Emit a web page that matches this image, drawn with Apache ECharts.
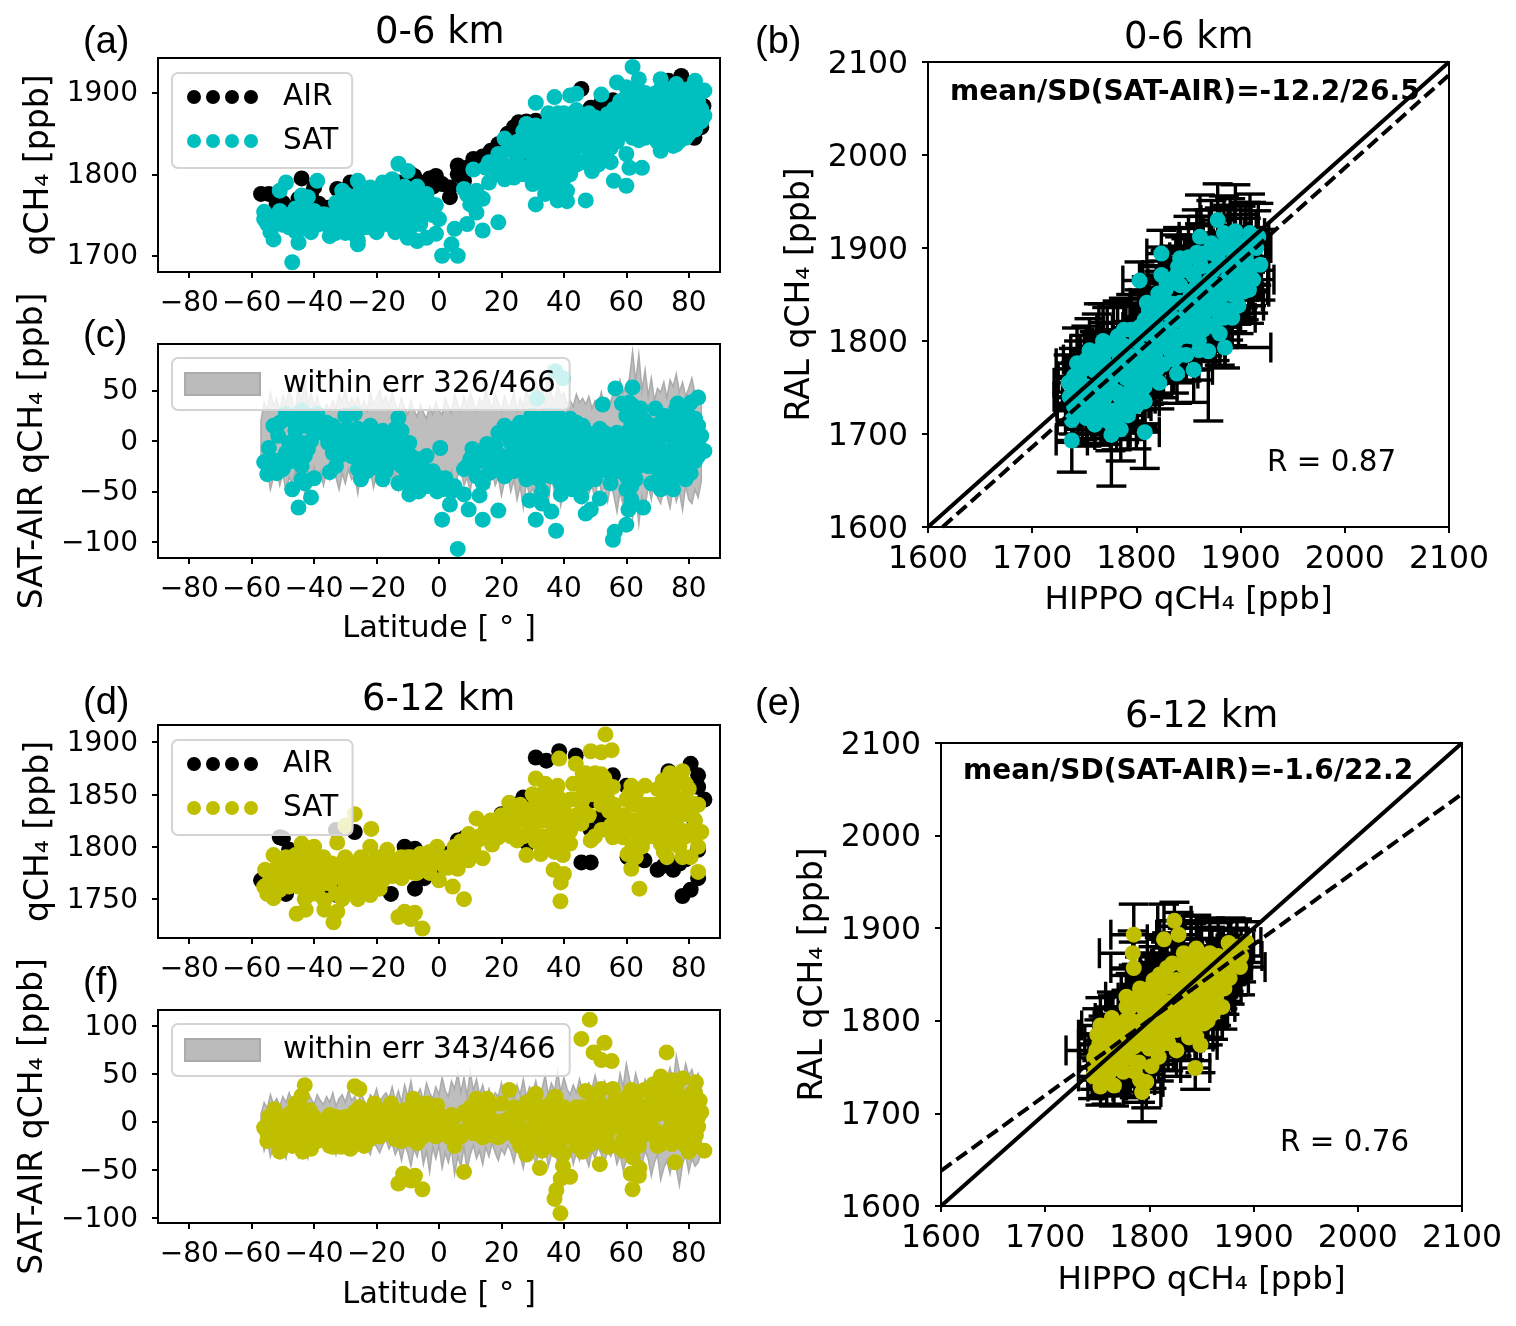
<!DOCTYPE html>
<html><head><meta charset="utf-8">
<style>html,body{margin:0;padding:0;background:#fff}#c{width:1516px;height:1326px}</style>
<script src="https://cdn.jsdelivr.net/npm/echarts@6/dist/echarts.min.js"></script>
</head><body><div id="c"></div>
<script>
const latTicks=[-80,-60,-40,-20,0,20,40,60,80];
const ticksA=[1700,1800,1900], ticksC=[-100,-50,0,50], ticksD=[1750,1800,1850,1900], ticksF=[-100,-50,0,50,100];
const ticksScat=[1600,1700,1800,1900,2000,2100];
const labels={a:'(a)',b:'(b)',c:'(c)',d:'(d)',e:'(e)',f:'(f)'};

// panel (a) latitude, qCH4
const airA=[[-57,1776],[-54.5,1776],[-52,1764],[-48.6,1759],[-44,1795],[-40,1784],[-38.5,1764],[-35.5,1759],[-32,1739],[-47,1735],[-32.6,1782],[-28.4,1790],[-30,1751],[-9.5,1802],[-7,1792],[-1,1798],[-5,1788],[-11,1788],[3.5,1772],[1,1788],[6,1811],[11,1819],[16.6,1829],[8,1792],[3.5,1784],[19,1837],[25.5,1864],[31,1866],[40,1800],[28.4,1813],[45.6,1905],[48.6,1882],[55.7,1891],[51.5,1874],[47.4,1837],[65.8,1866],[77.6,1921],[84.7,1884],[84,1858],[81.8,1845],[59,1886],[73.5,1915],[81.8,1911],[67.5,1878],[-3,1795],[-8,1798],[-13,1790],[-2,1785],[6,1800],[9,1808],[14,1822],[22,1850],[24,1858],[28,1865],[35,1870],[52,1888],[50,1880],[-50,1765],[-45,1770],[-41,1775]];
const satA=[[-56,1754],[-55,1739],[-53,1720],[-54,1729],[-52,1748],[-49,1750],[-51,1780],[-49,1790],[-45,1716],[-47,1692],[-44,1733],[-41,1729],[-44,1743],[-39,1792],[-44,1774],[-42,1772],[-38,1747],[-35,1724],[-34,1747],[-37,1751],[-32,1755],[-30,1776],[-26,1792],[-31,1780],[-28,1770],[-22,1784],[-18,1790],[-15,1794],[-13,1813],[-10,1804],[-26,1714],[-26,1719],[-27,1739],[-24,1735],[-20,1729],[-17,1739],[-14,1729],[-10,1722],[-7,1718],[-4,1722],[-1,1727],[-6,1739],[-10,1747],[-14,1755],[-19,1759],[-22,1751],[-26,1759],[-21,1772],[-17,1768],[-12,1776],[-8,1772],[-4,1776],[-1,1762],[0,1745],[5,1733],[9,1739],[4,1714],[1,1700],[6,1700],[14,1731],[19,1741],[12,1753],[10,1763],[12,1780],[8,1782],[11,1806],[15,1808],[19,1825],[21,1844],[21,1794],[24,1796],[27,1853],[28,1829],[31,1808],[30,1788],[34,1776],[31,1763],[38,1768],[41,1767],[39,1784],[47,1768],[33,1829],[36,1845],[38,1861],[42,1874],[31,1888],[37,1895],[42,1897],[44,1899],[44,1879],[37,1808],[40,1820],[44,1812],[49,1804],[51,1812],[48,1829],[55,1833],[49,1857],[52,1898],[56,1870],[60,1825],[61,1808],[65,1808],[56,1792],[60,1786],[62,1845],[64,1853],[57,1913],[60,1907],[64,1917],[62,1932],[62,1882],[54,1874],[67,1882],[71,1829],[76,1837],[71,1917],[76,1911],[82,1915],[85,1903],[79,1891],[73,1870],[79,1858],[85,1872],[71,1845],[77,1841],[69,1899],[78,1874],[82,1895],[65,1870],[58,1849],[73,1899],[67,1858],[32,1840],[35,1820],[38,1835],[40,1850],[43,1840],[35,1860],[30,1845],[41,1865],[45,1850],[33,1800],[36,1790],[70,1860],[74,1850],[78,1860],[82,1855],[80,1880],[75,1885],[72,1875],[84,1880],[70,1890],[76,1900],[80,1905],[50,1850],[54,1855],[58,1865],[62,1870],[66,1860],[60,1880],[63,1895],[66,1900],[-24,1760],[-20,1750],[-28,1750],[-16,1750],[-23,1775],[-53,1745],[-50,1738],[-47,1745],[-46,1730],[-43,1752],[-41,1745],[-39,1738],[-36,1738],[-33,1765],[-30,1765],[-29,1742],[-33,1740],[-24,1748],[-27,1750],[-22,1765],[-20,1740],[-18,1748],[-16,1762],[-14,1745],[-12,1738],[-11,1762],[-8,1755],[-5,1750],[-24,1772],[-19,1780],[-15,1778],[-11,1785],[-7,1785],[-30,1728],[-28,1728],[-22,1735],[-33,1728],[-44,1760],[-48,1735],[-53,1738],[12,1768],[9,1775],[14,1770],[16,1790],[19,1800],[23,1810],[25,1820],[22,1830],[25,1840],[28,1845],[27,1800],[30,1815],[32,1820],[34,1812],[36,1800],[38,1815],[41,1810],[43,1825],[33,1790],[37,1780],[40,1795],[41,1780],[46,1815],[43,1860],[40,1875],[38,1875],[34,1860],[31,1860],[28,1862],[35,1875],[47,1845],[50,1835],[52,1825],[47,1862],[53,1842],[50,1870],[53,1868],[56,1855],[56,1880],[59,1875],[60,1858],[64,1842],[62,1858],[65,1885],[67,1893],[69,1870],[72,1860],[75,1870],[78,1885],[81,1870],[83,1865],[72,1890],[78,1900],[74,1842],[77,1855],[70,1840],[68,1850],[66,1845],[60,1895],[58,1890],[63,1905],[83,1890],[80,1860],[82,1875],[79,1845],[75,1835],[-56,1745],[-51,1755],[-48,1748],[-46,1758],[-42,1738],[-40,1755],[-36,1750],[-35,1735],[-31,1770],[-29,1760],[-26,1775],[-25,1785],[-23,1745],[-21,1760],[-19,1770],[-17,1780],[-15,1765],[-13,1765],[-12,1750],[-9,1735],[-6,1765],[-3,1765],[-2,1750],[16,1815],[18,1810],[20,1815],[24,1830],[26,1810],[29,1835],[29,1800],[31,1830],[32,1800],[33,1850],[34,1840],[35,1800],[35,1785],[37,1830],[38,1795],[39,1850],[39,1825],[41,1835],[41,1855],[42,1800],[43,1810],[44,1870],[45,1835],[46,1860],[48,1815],[48,1875],[49,1840],[51,1845],[52,1860],[53,1830],[54,1865],[55,1815],[57,1840],[57,1860],[59,1850],[61,1865],[63,1880],[65,1855],[66,1875],[68,1865],[68,1885],[70,1875],[71,1905],[72,1850],[73,1885],[74,1865],[74,1905],[76,1850],[76,1875],[77,1890],[79,1870],[80,1850],[80,1892],[81,1885],[83,1905],[84,1865]];

// panel (c) latitude, SAT-AIR
const diffC=[[-56,-21],[-55,-33],[-52,-32],[-47,-48],[-45,-66],[-41,-56],[-40,-37],[-43,-42],[-44,-25],[-49,-12],[-54.5,-7],[-51.5,5],[-53,15],[-49,27],[-44,30],[-39,27],[-44,-2],[-43,15],[-40,8],[-35,-31],[-33,-25],[-35.5,-2],[-33,8],[-30,25],[-27,27],[-28.4,5],[-25,-38],[-22.5,-22],[-25,-8],[-21,5],[-18,-38],[-15.4,-22],[-13,-42],[-16.6,-8],[-14,12],[-13,23],[-9.5,-2],[-7,-18],[-4,-15],[-9.5,-53],[-6.5,-50],[-1,-35],[2,-37],[-0.6,-50],[0.4,-7],[4,-50],[8,-53],[3.5,-63],[9.5,-68],[1,-78],[6,-107],[14,-78],[19,-69],[13,-54],[14,-42],[10.7,-8],[15.4,-3],[8,-28],[12,-35],[21,15],[19,8],[21,-35],[24,-30],[28,-38],[29,-59],[31,-78],[33,-50],[33,-62],[36,-70],[37.5,-89],[39,-53],[42.6,-48],[47,-72],[48.6,-68],[45.6,-55],[51.5,-57],[55,-42],[50,-38],[45,-22],[41.5,-28],[37.3,69],[39.7,62],[31.4,42],[29.6,25],[33.8,22],[27,15],[32,2],[38,12],[44,18],[35.5,-12],[29.6,-18],[27,-8],[40,-8],[47.4,8],[51.5,12],[52.4,36],[56.5,52],[62,53],[58.6,37],[64.6,32],[61,38],[55.7,-98],[56.3,-90],[60,-83],[60.7,-68],[61.6,-58],[65.4,-66],[61.6,-45],[61,-28],[58,5],[61.6,18],[67.5,-12],[71,-48],[69.3,32],[76.4,37],[83,43],[80.6,38],[75,-48],[80.6,-32],[85,-10],[83,15],[73.5,22],[78,5],[71,5],[76,-12],[81.8,-2],[73.5,-28],[68,-42],[65,5],[57,-12],[50,-8],[-18,10],[-10,-20],[-28,-15],[-22,-12],[-30,-8],[-18,-15],[-12,-25],[-8,-35],[-2,-42],[24,0],[28,5],[26,-12],[32,-25],[36,-35],[35,5],[37,-10],[42,-18],[43,5],[40,15],[36,25],[33,-35],[38,-30],[46,-5],[48,-18],[53,-5],[44,-38],[60,-10],[62,-25],[63,5],[60,25],[64,-2],[70,-28],[72,-12],[74,5],[76,20],[78,-25],[80,10],[82,22],[68,15],[70,-2],[78,30],[76,-35],[72,-40],[-51,18],[-47,20],[-42,25],[-36,18],[-37,8],[-34,15],[-31,10],[-33,-5],[-30,-12],[-28,-2],[-26,12],[-24,5],[-22,15],[-20,-5],[-23,-30],[-26,-28],[-20,-25],[-17,-30],[-16,5],[-12,10],[-11,-10],[-14,-8],[-16,-20],[-8,-25],[-11,-40],[-6,-35],[-3,-38],[0,-45],[-47,-20],[-45,-10],[-43,-15],[-41,0],[-52,-20],[-50,-28],[-44,-38],[16,-22],[18,-18],[13,-20],[10,-18],[17,-30],[20,-15],[23,-15],[25,-8],[22,5],[26,18],[30,8],[31,-12],[34,-5],[28,-25],[30,-35],[32,10],[36,-20],[38,-20],[40,-35],[42,-2],[44,-10],[41,-15],[39,0],[42,22],[46,15],[34,25],[38,25],[48,-30],[50,-22],[52,-28],[54,-15],[56,-2],[57,8],[55,5],[53,-25],[45,-45],[47,-42],[43,-30],[60,-35],[62,-12],[64,-25],[62,12],[60,8],[58,-20],[60,-48],[64,15],[66,-5],[62,35],[68,-25],[70,15],[72,25],[74,-15],[76,5],[78,-10],[80,-15],[82,-20],[82,5],[84,5],[74,-35],[70,-40],[72,-25],[66,20],[76,32],[80,25],[-54,-18],[-50,-18],[-48,-2],[-46,10],[-45,22],[-42,-8],[-41,15],[-38,15],[-36,5],[-34,-12],[-32,-15],[-31,-2],[-29,12],[-27,-8],[-26,-18],[-24,-18],[-23,-5],[-21,-15],[-19,-5],[-19,-28],[-17,3],[-15,-8],[-13,-12],[-12,-2],[-11,-28],[-10,-35],[-9,-15],[-7,-42],[-5,-28],[-4,-45],[-2,-30],[1,-48],[5,-45],[9,-25],[11,-22],[12,-15],[14,-12],[16,-32],[18,-5],[20,-30],[22,-22],[23,-2],[24,12],[25,-22],[26,5],[27,-28],[28,-12],[29,12],[30,-5],[31,18],[32,-38],[33,8],[34,-20],[35,-28],[35,15],[36,-5],[37,18],[37,-22],[38,0],[39,-12],[39,-42],[40,5],[41,-25],[42,10],[43,-12],[44,-22],[45,8],[46,-15],[47,-25],[48,0],[49,-10],[50,5],[51,-15],[52,-5],[53,8],[54,-30],[55,-10],[56,-25],[57,-30],[58,-8],[59,5],[60,-20],[61,-5],[61,-35],[62,22],[63,-15],[63,-38],[64,8],[65,-12],[66,12],[67,-25],[68,0],[69,-12],[70,-20],[71,-8],[71,18],[72,-30],[73,10],[74,-22],[75,12],[75,-8],[77,-20],[77,15],[78,18],[79,-5],[79,-38],[81,-10],[81,18],[83,0],[83,-15]];

const bandLat=[-57,-56,-55,-54,-53,-52,-51,-50,-49,-48,-47,-46,-45,-44,-43,-42,-41,-40,-39,-38,-37,-36,-35,-34,-33,-32,-31,-30,-29,-28,-27,-26,-25,-24,-23,-22,-21,-20,-19,-18,-17,-16,-15,-14,-13,-12,-11,-10,-9,-8,-7,-6,-5,-4,-3,-2,-1,0,1,2,3,4,5,6,7,8,9,10,11,12,13,14,15,16,17,18,19,20,21,22,23,24,25,26,27,28,29,30,31,32,33,34,35,36,37,38,39,40,41,42,43,44,45,46,47,48,49,50,51,52,53,54,55,56,57,58,59,60,61,62,63,64,65,66,67,68,69,70,71,72,73,74,75,76,77,78,79,80,81,82,83,84];
const hiC=[20,38,30,48,35,42,30,45,36,50,40,30,55,38,62,36,48,34,44,30,28,36,30,40,32,46,38,50,34,42,36,44,32,40,30,48,36,42,50,38,44,34,48,36,30,42,32,26,40,30,24,36,28,22,34,26,38,30,26,42,34,28,46,36,30,44,34,48,38,30,42,36,50,40,32,46,38,30,44,34,36,48,30,42,34,52,38,46,60,44,50,40,72,46,38,56,44,48,36,40,34,46,38,42,36,44,32,40,36,48,34,42,38,50,44,60,48,55,62,88,58,85,50,70,44,62,40,52,48,58,42,60,54,66,48,58,44,52,62,46,50,36];
const loC=[-22,-38,-30,-48,-36,-28,-44,-32,-50,-36,-42,-28,-46,-34,-52,-30,-40,-26,-38,-30,-44,-30,-38,-26,-36,-48,-32,-42,-28,-38,-34,-52,-30,-42,-36,-28,-46,-34,-40,-30,-44,-26,-38,-32,-48,-30,-36,-28,-42,-34,-26,-38,-30,-24,-34,-28,-40,-32,-36,-30,-38,-30,-46,-34,-28,-44,-36,-50,-30,-42,-34,-52,-38,-46,-30,-44,-36,-54,-40,-32,-50,-38,-58,-44,-66,-40,-54,-46,-62,-38,-56,-44,-60,-36,-50,-42,-64,-48,-34,-52,-40,-56,-46,-60,-38,-52,-44,-58,-36,-50,-46,-60,-42,-54,-70,-50,-64,-44,-58,-76,-48,-82,-54,-66,-44,-58,-40,-56,-62,-48,-54,-66,-46,-60,-50,-68,-44,-58,-62,-48,-56,-40];
const hiF=[8,20,14,28,18,24,16,26,20,30,22,16,26,36,20,30,24,18,28,22,18,26,20,30,16,24,28,20,32,22,26,18,30,22,16,28,24,34,20,26,30,24,36,22,32,20,38,26,42,24,28,34,22,40,30,24,36,28,46,32,26,42,34,50,30,46,26,52,32,44,28,38,24,34,22,30,26,40,24,36,32,24,38,28,44,26,36,30,42,26,34,48,28,40,32,52,30,46,34,28,38,30,44,32,26,40,34,48,36,30,42,34,26,38,30,50,36,60,44,32,50,38,30,44,36,28,42,34,48,38,46,56,40,68,52,44,60,48,54,42,50,36];
const loF=[-12,-30,-20,-36,-24,-32,-18,-28,-38,-22,-30,-24,-36,-18,-28,-38,-22,-32,-26,-20,-24,-16,-30,-22,-34,-18,-28,-20,-32,-24,-18,-30,-22,-16,-28,-34,-20,-26,-32,-24,-18,-28,-22,-34,-26,-40,-24,-32,-46,-28,-36,-22,-44,-30,-52,-26,-38,-24,-48,-32,-42,-28,-54,-36,-46,-26,-50,-34,-24,-38,-30,-44,-26,-36,-22,-32,-40,-28,-34,-24,-30,-42,-26,-36,-48,-28,-40,-32,-44,-30,-38,-26,-46,-34,-28,-42,-30,-50,-36,-26,-44,-32,-40,-28,-36,-46,-30,-38,-26,-34,-42,-30,-36,-28,-44,-34,-50,-40,-30,-38,-52,-34,-44,-30,-38,-56,-42,-34,-60,-48,-40,-54,-36,-48,-66,-44,-34,-52,-38,-46,-42,-32];

// panel (b) HIPPO, RAL, x error, y error
const scatB=[[1738,1693,15,34],[1776,1699,16,55],[1808,1702,14,39],[1752,1717,20,30],[1781,1715,18,32],[1735,1755,14,30],[1743,1776,20,38],[1764,1790,18,50],[1788,1812,20,34],[1808,1823,18,30],[1810,1841,16,28],[1821,1851,18,30],[1803,1865,16,20],[1824,1871,18,30],[1824,1894,14,25],[1842,1889,18,32],[1861,1912,20,45],[1878,1930,16,39],[1884,1916,20,40],[1895,1918,15,50],[1909,1916,14,42],[1917,1912,10,36],[1919,1882,8,38],[1903,1853,24,30],[1888,1833,20,32],[1880,1808,18,34],[1869,1789,16,75],[1885,1793,44,22],[1855,1769,18,35],[1839,1765,20,32],[1836,1780,18,36],[1808,1735,14,30],[1808,1751,16,40],[1794,1733,18,32],[1768,1733,20,30],[1746,1733,22,28],[1736,1740,15,30],[1762,1769,20,38],[1784,1783,18,36],[1800,1783,18,34],[1816,1790,16,36],[1826,1812,18,34],[1842,1841,20,36],[1858,1858,18,38],[1874,1876,16,40],[1893,1887,18,36],[1848,1876,20,34],[1864,1894,18,40],[1880,1901,20,42],[1900,1905,18,40],[1848,1823,18,36],[1864,1812,20,34],[1829,1830,16,36],[1778,1762,18,34],[1794,1762,20,30],[1752,1751,18,40],[1768,1751,16,36],[1778,1798,20,42],[1752,1780,22,36],[1868,1833,18,34],[1887,1862,20,36],[1839,1862,18,40],[1826,1848,16,38],[1852,1805,20,36],[1816,1769,18,36],[1800,1769,16,34],[1784,1740,18,30],[1759,1719,20,24],[1775,1712,18,30],[1839,1805,20,36],[1874,1848,18,38],[1900,1869,20,40],[1861,1884,18,42],[1842,1876,16,36],[1829,1862,18,38],[1812,1833,18,36],[1740,1762,16,30],[1768,1780,20,40],[1880,1826,18,32],[1855,1841,20,34],[1912,1866,20,36],[1896,1848,25,30],[1740,1730,16,30],[1742,1745,18,32],[1745,1760,20,40],[1748,1722,14,28],[1755,1735,18,34],[1758,1750,20,36],[1760,1768,18,42],[1762,1785,16,44],[1766,1720,14,30],[1770,1740,18,36],[1772,1758,20,38],[1774,1772,16,40],[1772,1790,18,46],[1778,1725,20,30],[1782,1745,16,34],[1785,1770,18,38],[1788,1795,20,42],[1792,1720,14,26],[1795,1748,16,34],[1798,1775,18,36],[1800,1800,20,40],[1803,1815,16,40],[1806,1738,12,30],[1805,1760,16,34],[1812,1780,18,36],[1815,1805,20,38],[1818,1822,16,42],[1820,1840,18,40],[1822,1755,12,28],[1826,1775,16,36],[1830,1795,18,38],[1832,1815,20,40],[1835,1840,18,42],[1838,1870,16,44],[1842,1785,14,30],[1845,1805,18,36],[1848,1830,20,38],[1852,1850,18,42],[1855,1870,20,44],[1858,1895,18,46],[1860,1790,16,32],[1862,1825,18,36],[1866,1845,20,40],[1870,1865,18,44],[1872,1905,16,46],[1875,1815,14,36],[1878,1835,18,38],[1882,1855,20,40],[1885,1880,18,44],[1890,1905,16,48],[1892,1850,18,40],[1895,1870,20,42],[1900,1890,18,46],[1905,1905,14,44],[1910,1880,16,42],[1908,1855,18,36],[1915,1900,14,40],[1892,1825,22,30],[1898,1838,24,30],[1760,1710,16,22],[1785,1705,16,34],[1800,1730,14,46],[1738,1715,14,24],[1745,1745,16,30],[1750,1770,18,36],[1755,1790,18,34],[1758,1728,14,28],[1764,1745,16,30],[1766,1762,18,34],[1768,1800,16,40],[1770,1715,14,26],[1776,1750,16,30],[1780,1768,18,34],[1782,1805,18,38],[1786,1730,14,28],[1790,1760,16,32],[1792,1785,18,36],[1795,1812,18,38],[1798,1740,14,30],[1802,1770,16,32],[1805,1790,18,36],[1808,1808,18,38],[1812,1760,12,28],[1815,1820,18,38],[1818,1785,16,30],[1820,1770,14,28],[1822,1835,18,40],[1825,1800,16,32],[1828,1855,18,42],[1832,1790,14,30],[1835,1825,18,38],[1838,1800,16,32],[1840,1880,16,42],[1842,1860,18,40],[1845,1820,18,36],[1848,1785,14,28],[1850,1890,18,44],[1852,1815,16,34],[1855,1855,18,40],[1858,1835,18,38],[1860,1800,14,30],[1862,1880,18,44],[1865,1860,18,42],[1868,1818,16,34],[1870,1895,18,46],[1872,1840,18,38],[1875,1860,18,42],[1878,1890,16,44],[1880,1845,18,36],[1884,1825,16,32],[1886,1865,18,40],[1888,1900,16,46],[1890,1875,18,42],[1895,1895,18,46],[1898,1858,18,38],[1902,1878,16,42],[1905,1890,14,42],[1910,1905,14,44]];

// panel (d) latitude, qCH4
const airD=[[-57,1768],[-50,1808],[-48,1797],[-49,1755],[-34.4,1759],[-32.6,1754],[-25.5,1754],[-15.4,1755],[-7.7,1760],[-4.7,1770],[-11,1800],[-7.7,1798],[1,1781],[6,1806],[20,1831],[27,1847],[31,1885],[34.4,1882],[38.5,1891],[43.8,1887],[45.6,1785],[48.6,1785],[28.4,1803],[55.7,1868],[60,1858],[48.6,1844],[51.5,1828],[60.4,1790],[65.8,1787],[70,1778],[73.5,1784],[77,1784],[73.5,1872],[80.6,1879],[83,1868],[83,1857],[85,1845],[83,1797],[78,1753],[80.6,1759],[83,1770],[81.8,1825],[48.6,1816],[-33,1816],[-27,1814],[-51,1809],[72,1782],[75,1778],[79,1788],[62,1785],[-9,1792],[4,1795],[8,1808],[24,1840]];
const satD=[[-56,1762],[-55.7,1778],[-53,1792],[-53,1751],[-50,1771],[-51,1759],[-47,1784],[-44,1803],[-40,1800],[-45.6,1736],[-42.7,1740],[-45,1762],[-47.4,1774],[-41.5,1781],[-39,1787],[-36.7,1740],[-32.6,1738],[-33.8,1728],[-36.7,1749],[-34.4,1784],[-32.6,1804],[-30,1820],[-27,1831],[-21.7,1817],[-22,1800],[-21,1774],[-28.4,1759],[-25,1762],[-22,1754],[-31,1771],[-27,1784],[-16.6,1797],[-18,1768],[-14,1787],[-10.7,1781],[-6,1793],[-0.6,1800],[-2.4,1784],[0,1768],[4.4,1762],[8,1750],[-13,1733],[-11,1738],[-7.7,1737],[-9,1731],[-5.3,1722],[6,1779],[9.5,1787],[14,1789],[12,1827],[16.6,1825],[9.5,1812],[19,1809],[22.5,1842],[25,1806],[28,1792],[31,1865],[32.6,1793],[33,1850],[36.7,1778],[40,1774],[39,1766],[38.9,1748],[38.5,1884],[39.7,1792],[42,1803],[32,1825],[36.7,1825],[36.7,1850],[26,1825],[43.8,1879],[48.6,1891],[52,1890],[55.3,1892],[53.3,1907],[45.6,1822],[48.6,1806],[46,1857],[52,1869],[55.7,1857],[54.5,1834],[52,1816],[55.7,1809],[61.6,1858],[66,1858],[61.6,1779],[64.2,1760],[65,1800],[61.6,1825],[59,1809],[64,1825],[60.4,1793],[78,1872],[71.7,1863],[75.8,1841],[71,1825],[79.4,1831],[84,1814],[80.6,1790],[83,1776],[71,1803],[75.8,1803],[67.5,1825],[73.5,1850],[81.8,1841],[34,1835],[30,1815],[35,1810],[38,1835],[42,1825],[-24,1785],[-18,1785],[-25,1775],[-30,1790],[-45,1785],[-42,1765],[-50,1780],[-8,1783],[-4,1790],[3,1790],[6,1795],[20,1830],[24,1820],[73,1825],[70,1840],[76,1860],[78,1815],[68,1810],[46,1845],[50,1850],[-54,1770],[-52,1780],[-49,1790],[-48,1762],[-45,1775],[-43,1750],[-41,1755],[-44,1795],[-42,1790],[-40,1770],[-38,1775],[-37,1790],[-35,1765],[-33,1775],[-31,1750],[-30,1765],[-28,1775],[-26,1750],[-24,1770],[-22,1765],[-20,1790],[-19,1760],[-17,1780],[-15,1772],[-13,1780],[-12,1790],[-9,1790],[-7,1775],[-5,1780],[-3,1795],[0,1785],[3,1780],[5,1800],[8,1800],[11,1797],[13,1810],[15,1808],[17,1802],[19,1818],[22,1815],[24,1832],[27,1810],[28,1835],[29,1822],[31,1845],[33,1810],[35,1800],[36,1840],[34,1860],[37,1795],[38,1810],[40,1820],[40,1840],[42,1845],[38,1858],[41,1810],[44,1845],[46,1870],[48,1860],[50,1870],[53,1850],[48,1830],[50,1810],[56,1840],[57,1825],[55,1820],[60,1845],[62,1840],[64,1810],[66,1840],[68,1840],[62,1800],[63,1790],[65,1815],[70,1855],[72,1810],[74,1820],[74,1870],[76,1825],[78,1845],[77,1800],[80,1815],[82,1825],[80,1855],[83,1800],[73,1790],[78,1790],[-55,1755],[-52,1768],[-48,1780],[-46,1792],[-44,1770],[-43,1785],[-40,1785],[-39,1755],[-37,1765],[-35,1780],[-33,1755],[-31,1785],[-29,1770],[-27,1765],[-25,1790],[-23,1775],[-22,1785],[-20,1765],[-18,1778],[-16,1785],[-14,1775],[-12,1770],[-10,1790],[-8,1775],[-6,1785],[-3,1775],[-1,1790],[2,1780],[5,1790],[7,1805],[10,1800],[12,1805],[15,1818],[17,1812],[21,1825],[23,1810],[25,1835],[26,1840],[27,1825],[30,1830],[30,1850],[31,1805],[33,1825],[33,1838],[35,1848],[35,1825],[36,1812],[37,1838],[38,1848],[39,1825],[39,1800],[41,1830],[42,1815],[43,1860],[44,1830],[46,1835],[47,1870],[49,1850],[51,1860],[52,1840],[53,1865],[54,1845],[58,1815],[59,1830],[60,1815],[61,1850],[63,1815],[63,1850],[64,1800],[65,1835],[67,1815],[69,1830],[70,1815],[71,1840],[72,1850],[73,1840],[74,1835],[75,1855],[76,1815],[77,1845],[78,1835],[79,1860],[79,1810],[81,1830],[82,1810],[83,1840],[72,1795]];

// panel (f) latitude, SAT-AIR
const diffF=[[-56,-6],[-54.5,5],[-52.7,13],[-53,-19],[-51,-31],[-47.4,-12],[-43,38],[-44,27],[-46,19],[-43.6,-31],[-46,-19],[-48.6,-6],[-41.5,12],[-40,5],[-45,5],[-27,37],[-25.5,34],[-35,7],[-36.7,-19],[-34,-26],[-31.4,-26],[-28.4,-28],[-25.5,15],[-20.7,19],[-15.4,19],[-22,-18],[-21,5],[-26,-6],[-31,-2],[-16.6,1],[-10.7,-12],[-8.3,24],[-4,19],[-0.6,17],[-6,5],[-3.6,-6],[4,7],[1,-12],[5,-25],[-13,-64],[-11.5,-54],[-7.7,-56],[-9,-61],[-5.3,-70],[8,-52],[12,24],[15.4,24],[10.7,-2],[14,-16],[9.5,5],[22.5,33],[20,19],[19,-16],[26,-6],[28,-34],[31,29],[32.3,-48],[37.3,26],[33,-30],[29.6,8],[34.4,-12],[38,-30],[40,-33],[39.7,-46],[42,-57],[39,-59],[37.6,-71],[37,-80],[38.9,-95],[44,12],[47,32],[45.6,86],[48.3,106],[53,82],[49.5,72],[52,64],[55.3,63],[52,34],[55.7,34],[50,8],[46,-31],[51.5,-44],[48.6,-23],[54,-26],[55.7,-2],[61.6,33],[65.8,33],[60.4,8],[62.8,-16],[62,-37],[61.4,-54],[64.2,-48],[64,-56],[62,-70],[66.4,5],[59,-19],[72.9,72],[71,47],[68.7,39],[74.6,43],[78,45],[82.3,41],[83.5,22],[83,5],[82.3,-14],[85,-30],[80,-31],[75.6,-42],[71,-23],[74.6,-23],[70,8],[75.8,22],[79.4,5],[73.5,-9],[78,-12],[71,29],[46,-9],[41.5,-6],[32,1],[26,12],[28.4,-12],[21,1],[16.6,-6],[53,15],[58,-6],[67.5,-12],[-25,-12],[-18,-10],[-13,-8],[-8,-12],[-2,0],[4,-8],[24,15],[36,10],[42,-15],[35,-20],[30,-20],[44,-25],[56,20],[50,25],[60,-10],[63,20],[68,20],[72,15],[76,-8],[80,25],[70,-12],[82,-25],[-55,-12],[-52,-5],[-50,2],[-48,8],[-47,-25],[-45,-8],[-44,12],[-42,-5],[-41,-15],[-43,-18],[-38,-5],[-36,-10],[-34,-5],[-33,5],[-30,-15],[-28,-5],[-27,10],[-24,5],[-23,-15],[-20,-8],[-18,8],[-16,-12],[-14,5],[-12,-20],[-10,5],[-8,10],[-7,-22],[-5,-15],[-3,10],[-1,-15],[1,5],[3,-15],[6,-10],[8,10],[11,-12],[12,10],[14,5],[16,12],[17,-14],[19,0],[21,-12],[23,5],[25,-18],[26,-25],[28,20],[29,-8],[30,10],[31,-10],[33,15],[34,5],[35,-5],[36,20],[38,-12],[38,10],[40,-15],[40,15],[42,5],[44,-5],[45,-20],[46,15],[48,5],[50,-10],[52,-20],[53,-5],[55,-25],[56,10],[58,15],[60,-28],[60,25],[62,-5],[64,10],[65,-15],[68,5],[70,30],[72,-15],[73,25],[74,5],[76,35],[77,-20],[78,25],[80,-8],[81,10],[82,30],[69,-15],[-55,-20],[-54,-5],[-52,-12],[-50,-15],[-49,-22],[-47,2],[-46,-5],[-44,-12],[-42,5],[-41,-28],[-40,-10],[-39,-20],[-37,-2],[-35,-25],[-33,-15],[-32,-8],[-30,5],[-29,-18],[-27,-15],[-25,5],[-24,-25],[-22,-5],[-21,15],[-19,-15],[-17,12],[-15,-5],[-14,-18],[-12,-5],[-11,12],[-9,-18],[-8,0],[-6,15],[-4,-12],[-2,12],[0,-10],[2,-5],[3,5],[5,5],[7,-15],[9,-8],[10,15],[12,-5],[13,18],[15,-8],[16,0],[18,-5],[20,-10],[22,-5],[24,-10],[25,5],[27,-10],[27,8],[29,-20],[30,-25],[31,5],[32,15],[33,-8],[34,-25],[35,10],[36,-15],[37,-5],[37,12],[39,-20],[39,0],[41,8],[41,-10],[43,-12],[44,15],[45,0],[47,-15],[47,10],[49,-8],[49,18],[51,0],[51,22],[52,10],[54,-12],[54,8],[55,15],[57,-2],[57,20],[59,5],[59,-30],[60,15],[61,-20],[62,-12],[63,5],[63,28],[64,-25],[65,15],[66,-5],[67,12],[69,25],[69,-8],[70,-25],[71,12],[72,35],[73,-15],[74,-8],[75,10],[75,30],[76,20],[77,5],[78,-20],[79,15],[79,-25],[81,-15],[81,30],[83,-5],[84,10]];

// panel (e) HIPPO, RAL, x error, y error
const scatE=[[1824,1908,16,20],[1828,1893,18,24],[1814,1888,16,38],[1785,1893,22,33],[1784,1873,32,24],[1785,1857,22,28],[1876,1884,18,24],[1887,1858,24,30],[1877,1846,18,28],[1893,1885,14,22],[1844,1749,14,23],[1849,1774,16,30],[1826,1768,18,28],[1818,1776,16,30],[1809,1761,14,26],[1802,1751,12,24],[1791,1736,14,24],[1797,1734,16,28],[1793,1723,18,32],[1753,1729,12,20],[1746,1740,14,24],[1749,1768,29,18],[1753,1795,18,30],[1764,1803,16,28],[1778,1826,20,30],[1791,1835,18,34],[1804,1844,16,36],[1817,1857,20,38],[1833,1873,18,40],[1845,1878,20,36],[1858,1873,18,38],[1861,1808,14,28],[1860,1822,16,30],[1852,1797,18,26],[1839,1794,16,26],[1826,1790,18,28],[1801,1790,16,30],[1785,1772,14,26],[1769,1750,12,24],[1759,1736,14,26],[1778,1801,18,32],[1794,1815,16,34],[1810,1830,18,36],[1826,1844,20,36],[1842,1855,18,34],[1858,1851,20,30],[1871,1862,18,36],[1849,1830,18,32],[1833,1819,16,30],[1817,1808,18,30],[1801,1808,16,30],[1785,1790,14,30],[1769,1779,16,28],[1759,1758,14,24],[1839,1812,16,28],[1855,1812,18,30],[1817,1837,18,34],[1775,1765,14,24],[1756,1779,18,26],[1788,1754,14,22],[1817,1783,16,26],[1865,1840,18,32],[1845,1783,16,26],[1748,1750,16,24],[1752,1775,20,26],[1755,1745,14,26],[1760,1770,18,28],[1763,1785,16,30],[1766,1730,12,22],[1770,1765,16,30],[1772,1795,18,34],[1775,1745,14,26],[1780,1780,16,30],[1782,1815,20,36],[1786,1745,14,28],[1790,1775,16,30],[1792,1800,18,36],[1796,1825,20,38],[1800,1770,14,28],[1803,1805,16,34],[1806,1830,20,40],[1810,1785,16,32],[1812,1848,18,42],[1816,1795,14,30],[1820,1820,18,36],[1824,1800,16,30],[1830,1830,20,38],[1832,1860,18,40],[1836,1805,16,30],[1840,1840,20,38],[1844,1820,18,30],[1848,1860,20,40],[1852,1835,18,32],[1856,1800,14,26],[1860,1860,18,38],[1864,1825,16,30],[1868,1850,18,36],[1872,1835,16,28],[1876,1870,20,38],[1880,1860,18,32],[1884,1880,16,30],[1888,1870,20,28],[1870,1815,12,24],[1812,1775,14,28],[1838,1782,12,24],[1747,1760,14,24],[1750,1785,18,28],[1757,1760,14,26],[1762,1745,12,24],[1765,1795,18,32],[1768,1775,14,28],[1772,1755,12,24],[1776,1785,16,30],[1778,1815,18,34],[1780,1760,14,26],[1783,1800,16,32],[1788,1825,18,36],[1790,1755,12,26],[1793,1785,14,30],[1796,1810,16,34],[1800,1835,20,38],[1803,1785,14,28],[1805,1820,18,36],[1808,1800,16,30],[1810,1850,18,40],[1813,1815,16,32],[1816,1845,18,40],[1820,1795,14,28],[1822,1862,20,40],[1826,1810,16,30],[1828,1830,18,36],[1832,1800,14,28],[1834,1845,18,38],[1836,1825,16,32],[1840,1865,18,40],[1842,1800,14,28],[1846,1850,18,38],[1848,1810,14,28],[1850,1870,18,38],[1854,1845,16,34],[1856,1825,16,30],[1858,1865,18,36],[1862,1835,16,30],[1866,1870,18,36],[1870,1845,16,32],[1874,1855,18,34],[1878,1875,18,36],[1882,1870,16,30]];

const identityLine=[[1600,1600],[2100,2100]];
const fitB=[[1614,1600],[2100,2086]];
const fitE=[[1600,1638],[2100,2045]];

const CYAN='#00BFBF',OLIVE='#BFBF00';
const FF='"DejaVu Sans"';
const boxes=[
 {left:158,top:58,width:562,height:214},   // a
 {left:158,top:344,width:562,height:214},  // c
 {left:928,top:62,width:521,height:465},   // b
 {left:158,top:725,width:562,height:213},  // d
 {left:158,top:1010,width:562,height:213}, // f
 {left:941,top:743,width:521,height:463},  // e
];
const grid=boxes.map(b=>({...b,show:true,borderColor:'#000',borderWidth:2,backgroundColor:'#fff',containLabel:false}));
function ax(i,min,max,ticks,fs,name,pos,gap,nfs,margin,padTop){
  return {gridIndex:i,type:'value',min,max,scale:true,position:pos,splitLine:{show:false},
    axisLine:{show:true,onZero:false,lineStyle:{color:'#000',width:2}},
    axisTick:{show:true,length:6,lineStyle:{color:'#000',width:2},customValues:ticks},
    axisLabel:{show:true,color:'#000',fontFamily:FF,fontSize:fs,margin,hideOverlap:false,customValues:ticks,
      rich:{t:{color:'#000',fontFamily:FF,fontSize:fs,padding:[padTop||0,0,0,0]}},
      showMinLabel:true,showMaxLabel:true,formatter:v=>'{t|'+String(v).replace('-','\u2212')+'}'},
    name:name||'',nameLocation:'middle',nameGap:gap||0,nameRotate:pos==='left'?90:0,
    nameTextStyle:{color:'#000',fontFamily:FF,fontSize:nfs||30}};
}
const LAT='Latitude [ \u00B0 ]';
const xAxis=[
 ax(0,-90,90,latTicks,28,'', 'bottom',0,30,18),
 ax(1,-90,90,latTicks,28,LAT,'bottom',56,30.5,18),
 ax(2,1600,2100,ticksScat,31.5,'HIPPO qCH\u2084 [ppb]','bottom',57,32.6,17),
 ax(3,-90,90,latTicks,28,'','bottom',0,30,18),
 ax(4,-90,90,latTicks,28,LAT,'bottom',57,30.5,18),
 ax(5,1600,2100,ticksScat,31.5,'HIPPO qCH\u2084 [ppb]','bottom',58,32.6,17),
];
const yAxis=[
 ax(0,1680,1943,ticksA,28,'qCH\u2084 [ppb]','left',102,33,20,2),
 ax(1,-116,96,ticksC,28,'SAT-AIR qCH\u2084 [ppb]','left',108,33,20,3),
 ax(2,1600,2100,ticksScat,31.5,'RAL qCH\u2084 [ppb]','left',111,33,20,6),
 ax(3,1713,1916,ticksD,28,'qCH\u2084 [ppb]','left',102,33,20,4),
 ax(4,-105,116,ticksF,28,'SAT-AIR qCH\u2084 [ppb]','left',108,33,20,4),
 ax(5,1600,2100,ticksScat,31.5,'RAL qCH\u2084 [ppb]','left',111,33,20,5),
];
function scatter(name,data,color,i,z){
  return {type:'scatter',name,data,xAxisIndex:i,yAxisIndex:i,symbol:'circle',symbolSize:16,large:false,
    itemStyle:{color,opacity:1},z:z||3,animation:false,silent:true,encode:{x:0,y:1}};
}
function band(name,lat,hi,lo,i){
  const rows=lat.map((l,k)=>[l,hi[k],lo[k]]);
  return {type:'custom',name,data:rows,xAxisIndex:i,yAxisIndex:i,z:2,animation:false,silent:true,
    encode:{x:0,y:[1,2]},itemStyle:{color:'#BBBBBB'},
    renderItem(params,api){
      if(params.dataIndex!==0) return null;
      const up=rows.map(r=>api.coord([r[0],r[1]]));
      const dn=rows.map(r=>api.coord([r[0],r[2]])).reverse();
      return {type:'polygon',shape:{points:up.concat(dn)},
        style:{fill:'#BEBEBE',stroke:'#ABABAB',lineWidth:1.6}};
    }};
}
function errbars(data,i){
  return {type:'custom',data,xAxisIndex:i,yAxisIndex:i,z:2,animation:false,silent:true,
    encode:{x:0,y:1},
    renderItem(params,api){
      const x=api.value(0),y=api.value(1),xe=api.value(2),ye=api.value(3),cap=15;
      const L=api.coord([x-xe,y]),R=api.coord([x+xe,y]),T=api.coord([x,y+ye]),B=api.coord([x,y-ye]);
      const seg=(a,b,c,d)=>({type:'line',shape:{x1:a,y1:b,x2:c,y2:d},style:{stroke:'#000',lineWidth:3.4}});
      return {type:'group',children:[
        seg(L[0],L[1],R[0],R[1]),seg(T[0],T[1],B[0],B[1]),
        seg(L[0],L[1]-cap,L[0],L[1]+cap),seg(R[0],R[1]-cap,R[0],R[1]+cap),
        seg(T[0]-cap,T[1],T[0]+cap,T[1]),seg(B[0]-cap,B[1],B[0]+cap,B[1])]};
    }};
}
function refLine(name,data,i,dashed){
  return {type:'line',name,data,xAxisIndex:i,yAxisIndex:i,symbol:'none',z:5,animation:false,silent:true,
    lineStyle:{color:'#000',width:4,type:dashed?[13,6]:'solid'}};
}
const series=[
 scatter('AIR',airA,'#000',0,3),scatter('SAT',satA,CYAN,0,4),
 band('within err 326/466',bandLat,hiC,loC,1),scatter('diff c',diffC,CYAN,1,4),
 errbars(scatB,2),scatter('b',scatB,CYAN,2,4),refLine('1:1 b',identityLine,2,false),refLine('fit b',fitB,2,true),
 scatter('AIR ',airD,'#000',3,3),scatter('SAT ',satD,OLIVE,3,4),
 band('within err 343/466',bandLat,hiF,loF,4),scatter('diff f',diffF,OLIVE,4,4),
 errbars(scatE,5),scatter('e',scatE,OLIVE,5,4),refLine('1:1 e',identityLine,5,false),refLine('fit e',fitE,5,true),
];
const dots='path://M0 7a7 7 0 1 0 14 0a7 7 0 1 0 -14 0Z M19 7a7 7 0 1 0 14 0a7 7 0 1 0 -14 0Z M38 7a7 7 0 1 0 14 0a7 7 0 1 0 -14 0Z M57 7a7 7 0 1 0 14 0a7 7 0 1 0 -14 0Z';
function pointLegend(left,top,names,padR){
  return {left,top,orient:'vertical',data:names.map(name=>({name,icon:dots})),itemWidth:71,itemHeight:14,itemGap:10,
    padding:[7,padR,10,15],backgroundColor:'rgba(255,255,255,0.8)',borderColor:'#D4D4D4',borderWidth:2,borderRadius:6,
    selectedMode:false,z:8,textStyle:{color:'#000',fontFamily:FF,fontSize:29.5,lineHeight:26,padding:[8,0,0,20]}};
}
function bandLegend(left,top,name){
  return {left,top,orient:'vertical',data:[{name,icon:'rect'}],itemWidth:75,itemHeight:22,
    itemStyle:{color:'#BBBBBB',borderColor:'#ABABAB',borderWidth:2},
    padding:[8,14,8,12],backgroundColor:'rgba(255,255,255,0.8)',borderColor:'#D4D4D4',borderWidth:2,borderRadius:6,
    selectedMode:false,z:8,textStyle:{color:'#000',fontFamily:FF,fontSize:29.5,lineHeight:30,padding:[6,0,0,18]}};
}
const legend=[
 pointLegend(172,73,['AIR','SAT'],14),bandLegend(172,358,'within err 326/466'),
 pointLegend(172,740,['AIR ','SAT '],5),bandLegend(172,1024,'within err 343/466'),
];
function ttl(text,left,top){return {text,left,top,padding:0,textStyle:{color:'#000',fontFamily:FF,fontSize:37,fontWeight:'normal'}};}
const title=[ttl('0-6 km',375,15),ttl('0-6 km',1124,20),ttl('6-12 km',362,682),ttl('6-12 km',1125,699)];
function txt(text,x,y,font){return {type:'text',x,y,z:20,style:{text,font,fill:'#000',align:'left',verticalAlign:'middle'}};}
const SL='38px "Liberation Sans"';
const graphic=[
 txt(labels.a,83,43,SL),txt(labels.b,755,43,SL),txt(labels.c,83,337,SL),
 txt(labels.d,83,704,SL),txt(labels.e,755,705,SL),txt(labels.f,83,984,SL),
 txt('mean/SD(SAT-AIR)=-12.2/26.5',950,93,'bold 28px "DejaVu Sans"'),
 txt('mean/SD(SAT-AIR)=-1.6/22.2',963,772,'bold 28px "DejaVu Sans"'),
 txt('R = 0.87',1267,463,'29.4px "DejaVu Sans"'),
 txt('R = 0.76',1280,1143,'29.4px "DejaVu Sans"'),
];
const chart=echarts.init(document.getElementById('c'),null,{width:1516,height:1326,renderer:'canvas'});
chart.setOption({animation:false,backgroundColor:'#fff',tooltip:{show:false},grid,xAxis,yAxis,series,legend,title,graphic});
</script></body></html>
